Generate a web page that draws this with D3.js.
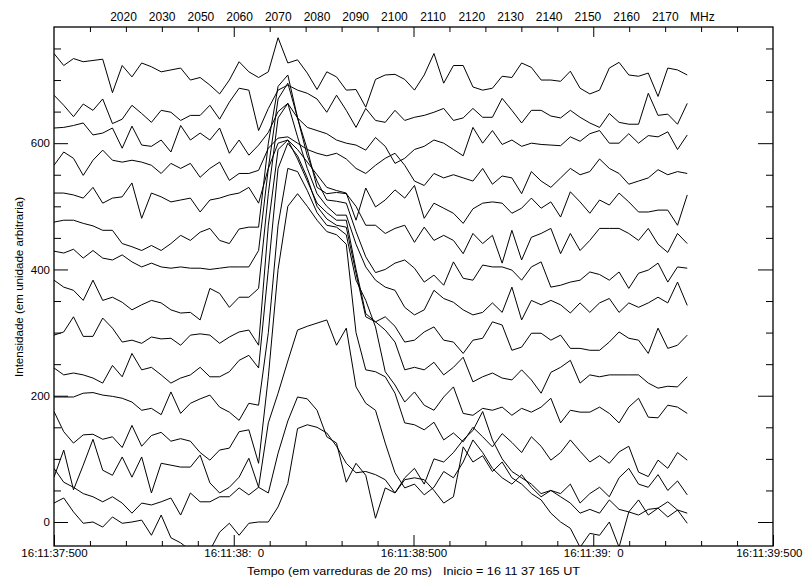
<!DOCTYPE html>
<html><head><meta charset="utf-8">
<script src="https://cdn.jsdelivr.net/npm/d3@7"></script>
<style>
body{margin:0;background:#fff}
svg{display:block}
text{font-family:"Liberation Sans",Arial,sans-serif;fill:#000}
</style>
</head><body>
<svg id="c" width="803" height="577"></svg>
<script>
// ---------- data ----------
const freqLabels = ["2020","2030","2050","2060","2070","2080","2090","2100","2110","2120","2130","2140","2150","2160","2170"];
const freqUnit = "MHz";
const timeTickMs = [0,500,1000,1500,2000];
const timeTickLabels = ["16:11:37:500","16:11:38:  0","16:11:38:500","16:11:39:  0","16:11:39:500"];
const intensityTicks = [0,200,400,600];
const sampleStepMs = 27.1; // time between successive sweeps plotted

const s00 = [30,38,16,-2,0,-8,8,-2,0,3,
 -21,11,-25,-33,-45,-60,-45,-16,-2,-21,
 -2,0,0,24,61,148,154,150,141,120,
 93,78,80,75,67,46,67,70,67,50,
 30,40,119,95,105,80,95,70,60,45,
 35,14,0,-10,-40,-18,-21,0,-40,16,
 35,11,22,8,19,-2];
const s01 = [85,63,55,45,40,32,40,30,14,30,
 27,32,38,11,46,32,32,40,40,54,
 43,55,46,109,160,198,195,177,135,125,
 63,93,74,6,54,46,70,85,60,100,
 95,110,130,145,175,130,100,80,70,60,
 45,50,40,30,14,20,14,35,20,16,
 11,20,22,32,19,14];
const s02 = [71,114,51,90,131,82,74,103,71,103,
 46,93,90,87,87,106,62,46,55,71,
 101,55,157,204,255,304,310,315,320,280,
 307,214,188,177,125,78,54,60,43,55,
 80,70,95,130,110,85,70,60,75,55,
 40,50,45,60,30,45,55,40,70,85,
 60,55,75,50,65,43];
const s03 = [175,143,125,138,139,131,135,118,153,120,
 137,142,128,132,128,110,98,114,117,143,
 146,93,230,400,500,520,500,478,460,455,
 440,300,241,238,230,204,157,154,146,158,
 130,141,127,150,135,119,140,126,110,135,
 120,98,110,130,112,95,105,93,111,120,
 79,72,98,85,110,98];
const s04 = [198,198,198,204,205,201,199,196,190,177,
 180,170,206,172,188,195,201,182,174,161,
 188,185,300,470,560,555,525,490,470,467,
 455,383,351,309,238,217,190,206,185,177,
 198,214,172,169,180,177,182,169,180,174,
 182,196,157,177,174,174,182,172,157,182,
 196,166,165,185,182,172];
const s05 = [244,233,236,233,228,220,248,230,267,241,
 245,233,220,228,233,245,230,230,238,256,
 264,244,400,560,600,580,545,500,480,470,
 467,394,325,317,304,285,241,245,241,253,
 233,245,261,222,230,236,228,225,241,225,
 204,237,245,256,220,233,230,233,233,233,
 233,220,212,215,214,230];
const s06 = [296,301,325,294,294,323,307,285,288,283,
 293,290,291,280,296,298,296,283,293,301,
 304,280,470,590,605,575,540,505,490,478,
 478,400,330,317,325,310,285,288,301,309,
 288,285,267,288,291,317,312,272,277,299,
 299,288,296,275,275,272,272,285,301,291,
 288,267,307,275,280,296];
const s07 = [383,372,367,351,383,351,356,348,336,344,
 351,347,336,331,332,320,370,362,340,356,
 356,370,520,640,663,610,560,520,500,486,
 486,440,404,383,372,367,340,328,336,367,
 354,348,336,328,332,347,332,372,320,351,
 344,351,344,331,347,332,347,354,332,347,
 340,347,356,347,380,343];
const s08 = [429,426,432,418,430,418,415,423,412,404,
 410,404,402,404,402,402,400,402,404,404,
 404,430,560,670,695,640,580,540,510,508,
 505,460,420,395,400,410,415,402,380,391,
 375,412,386,383,407,404,404,399,383,404,
 412,372,375,380,383,396,392,383,396,370,
 394,399,410,380,404,402];
const s09 = [475,478,478,473,469,462,462,441,436,430,
 438,430,441,454,446,459,465,446,441,464,
 467,467,600,690,708,640,590,530,520,522,
 520,500,470,470,457,465,470,443,467,446,
 454,446,425,457,441,454,410,462,415,451,
 457,465,425,457,430,446,465,465,465,457,
 446,465,440,427,457,441];
const s10 = [521,521,518,513,530,505,513,515,537,481,
 521,515,507,510,513,491,510,513,518,521,
 530,505,560,600,605,590,570,550,530,525,
 521,478,529,499,510,526,513,533,481,505,
 497,489,473,496,505,507,505,489,497,513,
 497,507,483,523,507,489,510,502,521,507,
 491,491,494,494,470,518];
const s11 = [565,586,576,549,573,589,573,570,573,570,
 565,552,568,560,568,546,560,570,541,552,
 552,557,592,608,610,600,590,584,580,584,
 575,560,552,565,576,584,565,540,533,552,
 545,550,545,540,560,535,548,545,520,555,
 540,530,545,560,550,555,575,560,552,535,
 540,545,558,550,555,552];
const s12 = [624,625,628,632,613,616,624,592,627,597,
 595,605,586,628,605,616,605,624,584,605,
 581,597,617,650,663,640,625,620,615,605,
 600,597,589,609,595,568,576,590,595,605,
 600,590,580,625,600,620,598,605,595,600,
 598,597,596,610,603,615,620,600,600,615,
 600,612,610,618,590,613];
const s13 = [676,660,642,662,652,670,631,638,660,647,
 633,652,649,636,644,644,660,638,665,687,
 684,620,655,684,692,684,679,670,649,676,
 652,625,655,636,633,652,636,641,644,649,
 655,636,640,655,641,641,671,652,632,652,
 652,643,640,652,641,632,625,647,633,630,
 630,679,644,646,630,663];
const s14 = [742,723,734,729,731,733,680,723,705,727,
 721,713,716,719,700,704,692,678,700,729,
 713,704,713,767,727,732,711,685,713,705,
 684,685,657,701,708,709,701,684,708,742,
 695,723,723,689,684,687,706,704,727,720,
 700,700,698,714,687,678,684,719,728,708,
 706,711,674,719,716,708];
const allSeries = [s00,s01,s02,s03,s04,s05,s06,s07,s08,s09,s10,s11,s12,s13,s14];

// ---------- drawing ----------
const svg = d3.select("#c");
const P = {left:54, right:773, top:27, bottom:546};
const x = d3.scaleLinear().domain([0,2000]).range([P.left, P.right]);
const y = d3.scaleLinear().domain([-38,784]).range([P.bottom, P.top]);

svg.append("defs").append("clipPath").attr("id","clip")
  .append("rect").attr("x",P.left).attr("y",P.top)
  .attr("width",P.right-P.left).attr("height",P.bottom-P.top);

const line = d3.line().x((d,i)=>x(i*sampleStepMs)).y(d=>y(d));
svg.append("g").attr("clip-path","url(#clip)")
  .selectAll("path").data(allSeries).join("path")
  .attr("d",line).attr("fill","none").attr("stroke","#000")
  .attr("stroke-width",1).attr("stroke-linejoin","miter");

const minorX = d3.range(0,2001,100).filter(v=>v%500!==0);
const minorY = d3.range(0,784,50).filter(v=>v%200!==0);

function clean(g){ g.select(".domain").remove(); g.selectAll("line").attr("stroke","#000"); }

// bottom
svg.append("g").attr("transform",`translate(0,${P.bottom})`)
  .call(d3.axisBottom(x).tickValues(minorX).tickSize(-5).tickFormat("")).call(clean);
const gb = svg.append("g").attr("transform",`translate(0,${P.bottom})`)
  .call(d3.axisBottom(x).tickValues(timeTickMs).tickSize(-11).tickPadding(3)
        .tickFormat((d,i)=>timeTickLabels[i])).call(clean);
gb.selectAll("text").attr("font-family","Liberation Sans, Arial, sans-serif")
  .attr("font-size",11.5).style("white-space","pre");
// the last label sits at the page edge: keep it fully inside
gb.selectAll("text").filter((d,i)=>i===timeTickMs.length-1)
  .attr("text-anchor","end").attr("x",802-P.right);

// top
svg.append("g").attr("transform",`translate(0,${P.top})`)
  .call(d3.axisTop(x).tickValues(minorX).tickSize(-5).tickFormat("")).call(clean);
svg.append("g").attr("transform",`translate(0,${P.top})`)
  .call(d3.axisTop(x).tickValues(timeTickMs.slice(1,-1)).tickSize(-10).tickFormat("")).call(clean);

// left
svg.append("g").attr("transform",`translate(${P.left},0)`)
  .call(d3.axisLeft(y).tickValues(minorY).tickSize(-7).tickFormat("")).call(clean);
const gl = svg.append("g").attr("transform",`translate(${P.left},0)`)
  .call(d3.axisLeft(y).tickValues(intensityTicks).tickSize(-14).tickPadding(4)).call(clean);
gl.selectAll("text").attr("font-family","Liberation Sans, Arial, sans-serif").attr("font-size",11.5);

// right
svg.append("g").attr("transform",`translate(${P.right},0)`)
  .call(d3.axisRight(y).tickValues(minorY).tickSize(-7).tickFormat("")).call(clean);
svg.append("g").attr("transform",`translate(${P.right},0)`)
  .call(d3.axisRight(y).tickValues(intensityTicks).tickSize(-15).tickFormat("")).call(clean);

// frame
svg.append("rect").attr("x",P.left).attr("y",P.top)
  .attr("width",P.right-P.left).attr("height",P.bottom-P.top)
  .attr("fill","none").attr("stroke","#000").attr("stroke-width",1.3);

// frequency labels on top
const fx = d3.scalePoint().domain(freqLabels).range([123.5,665.3]);
svg.append("g").selectAll("text").data(freqLabels).join("text")
  .attr("x",d=>fx(d)).attr("y",21).attr("text-anchor","middle")
  .attr("font-size",12).text(d=>d);
svg.append("text").attr("x",690).attr("y",21).attr("font-size",12).text(freqUnit);

// axis titles
svg.append("text").attr("x",247).attr("y",575).attr("font-size",11)
  .attr("textLength",185).attr("lengthAdjust","spacingAndGlyphs")
  .text("Tempo (em varreduras de 20 ms)");
svg.append("text").attr("x",443).attr("y",575).attr("font-size",11)
  .attr("textLength",137).attr("lengthAdjust","spacingAndGlyphs")
  .text("Inicio = 16 11 37 165 UT");
svg.append("text").attr("transform","translate(23,287) rotate(-90)")
  .attr("text-anchor","middle").attr("font-size",11)
  .attr("textLength",180).attr("lengthAdjust","spacingAndGlyphs")
  .text("Intensidade (em unidade arbitraria)");
</script>
</body></html>
